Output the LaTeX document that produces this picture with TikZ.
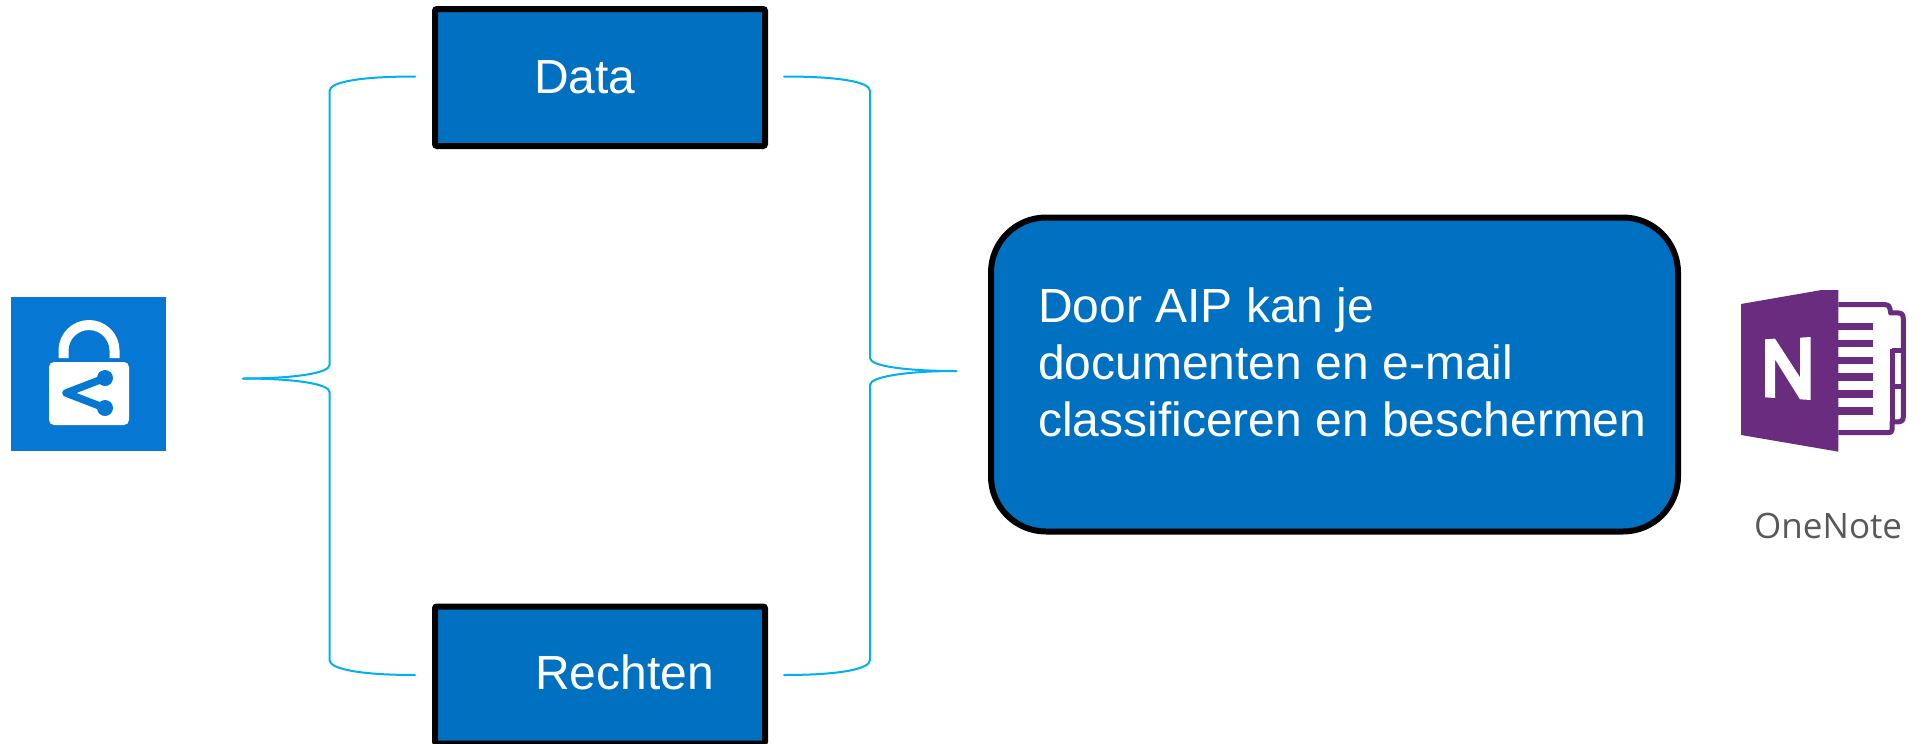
\documentclass[tikz,border=0pt]{standalone}
\usepackage{fontspec}
\setmainfont{Liberation Sans}
\newfontfamily\notefont{Open Sans}
\definecolor{boxblue}{HTML}{0070C0}
\definecolor{bracecol}{HTML}{00B0F0}
\definecolor{iconblue}{HTML}{0678D4}
\definecolor{notepurple}{HTML}{692C7E}
\definecolor{notegray}{HTML}{595959}
\tikzset{
  stepbox/.style={draw=black,fill=boxblue,line width=6pt,rounded corners=2pt,inner sep=0pt},
  bigbox/.style={draw=black,fill=boxblue,line width=6pt,rounded corners=55pt,inner sep=0pt},
  lab/.style={text=white,inner sep=0pt,anchor=base west,font=\fontsize{48}{57}\selectfont},
  brace/.style={draw=bracecol,line width=2pt,line cap=round,line join=round},
  purp/.style={fill=notepurple,draw=none},
  purpline/.style={draw=notepurple,line width=5pt,line join=round}
}
\begin{document}
\begin{tikzpicture}[x=1pt,y=-1pt]
\useasboundingbox (0,0) rectangle (1927,744);
\fill[white] (0,0) rectangle (1927,744);
% boxes
\node[stepbox,minimum width=330pt,minimum height=137pt] (data) at (600,77.5) {};
\node[stepbox,minimum width=330pt,minimum height=137pt] (rechten) at (600,675) {};
\node[bigbox,minimum width=687pt,minimum height=314pt] (aip) at (1334.5,374.5) {};
\node[lab] (datat) at (534,93) {Data};
\node[lab] (rechtent) at (535,689.5) {Rechten};
\node[lab,align=left,anchor=north west] (aipt) at (1038,288) {Door AIP kan je\\documenten en e-mail\\classificeren en beschermen};
% brace anchors
\coordinate (lt) at (243,378.5);
\coordinate (la) at (415,76.5);
\coordinate (lb) at (415,675);
\coordinate (ra) at (784,76.5);
\coordinate (rb) at (784,675);
\coordinate (rt) at (956,371);
% left brace
\draw[brace] (la) .. controls (360,76.5) and (329.5,82) .. (329.5,91) -- (329.5,365) .. controls (329.5,373) and (295,378.5) .. (lt);
\draw[brace] (lb) .. controls (360,675) and (329.5,669) .. (329.5,660) -- (329.5,392) .. controls (329.5,384) and (295,378.5) .. (lt);
% right brace
\draw[brace] (ra) .. controls (840,76.5) and (870,82) .. (870,91) -- (870,358) .. controls (870,366) and (905,371) .. (rt);
\draw[brace] (rb) .. controls (840,675) and (870,669) .. (870,660) -- (870,385) .. controls (870,377) and (905,371) .. (rt);
% lock icon
\fill[iconblue] (11,297) rectangle (166,451);
\draw[white,line width=10pt] (63.5,358) -- (63.5,350.5) arc[start angle=180,end angle=360,radius=25.5] -- (114.5,358);
\fill[white,rounded corners=5pt] (49,362) rectangle (129,425);
\draw[iconblue,line width=7.5pt,line join=round,line cap=round] (105,378) -- (66,393) -- (105,408);
\fill[iconblue] (105,378) circle[radius=8] (105,408) circle[radius=8];
% OneNote icon
\begin{scope}[shift={(1700,270)},x=0.3333pt,y=-0.3333pt]
\draw[purpline] (415,104) -- (555,104) .. controls (568,104) and (570,112) .. (572,129) -- (595,129) .. controls (606,129) and (610,135) .. (610,148) -- (610,440) .. controls (610,452) and (604,456) .. (595,456) -- (576,456) -- (576,480) .. controls (576,486) and (572,488) .. (565,488) -- (415,488);
\draw[purpline] (576,456) -- (576,236);
\draw[purpline] (576,243) -- (610,243);
\draw[purpline] (576,350) -- (610,350);
\fill[purp] (123,102) -- (365,60) -- (415,60) -- (415,545) -- (123,495) -- cycle;
\foreach \yy in {158,209,260,310,361,412}{\fill[purp] (415,\yy) rectangle (520,\yy+22);}
\fill[white] (195,208) -- (225,206) -- (300,322) -- (300,203) -- (332,201) -- (332,390) -- (300,388) -- (225,268) -- (225,384) -- (195,382) -- cycle;
\end{scope}
\node[inner sep=0pt,anchor=base west,text=notegray,font=\notefont\fontsize{35}{40}\selectfont] (onenote) at (1754,538.5) {OneNote};
\end{tikzpicture}
\end{document}
